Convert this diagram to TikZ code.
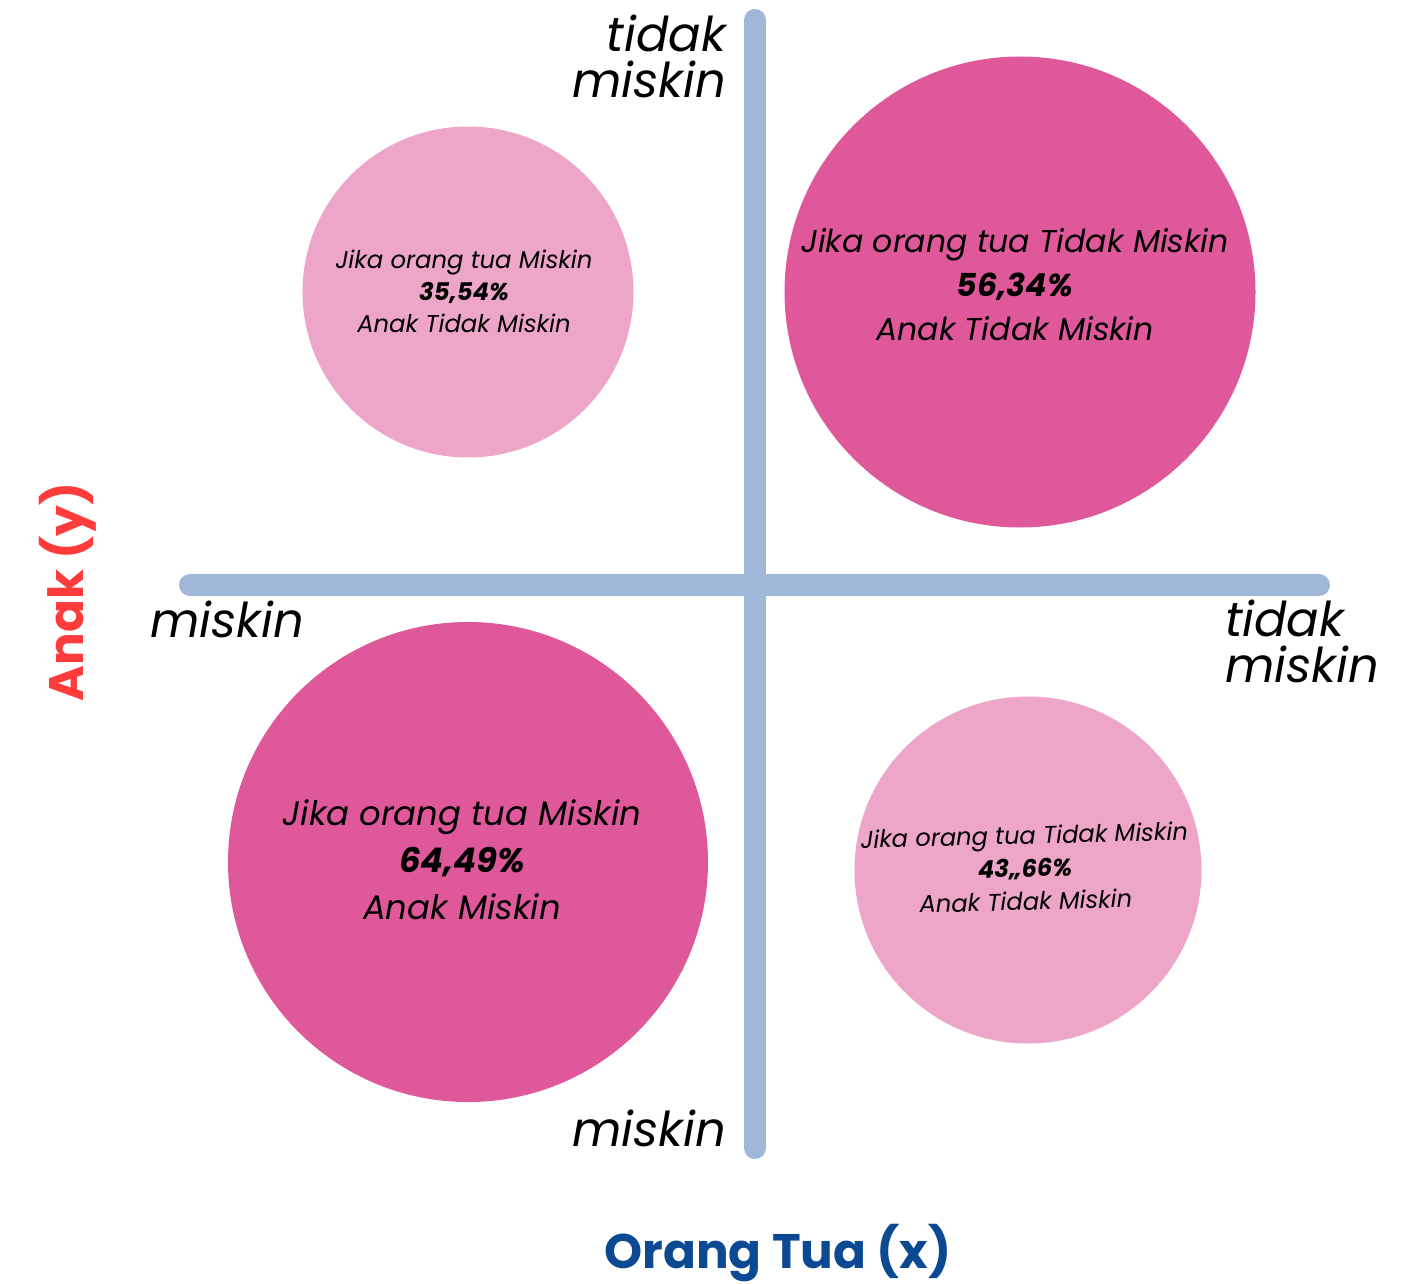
\documentclass[tikz,border=0pt]{standalone}
\usepackage{fontspec}
\setmainfont{Poppins}
\definecolor{axisblue}{HTML}{9FB7D8}
\definecolor{lightpink}{HTML}{EDA5C8}
\definecolor{darkpink}{HTML}{DF5899}
\definecolor{anakred}{HTML}{FF3B3B}
\definecolor{otblue}{HTML}{0B4A93}
\tikzset{
  axisline/.style={draw=axisblue, line width=22pt, line cap=round},
  bubble/.style={circle, inner sep=0pt, draw=none},
  axlabel/.style={font=\itshape\fontsize{48}{46}\selectfont, inner sep=0pt, align=left},
  bubbletext/.style={align=center, inner sep=0pt, text=black},
}
\begin{document}
\begin{tikzpicture}[x=1pt,y=-1pt]
\useasboundingbox (0,0) rectangle (1414,1284);
% axes
\coordinate (vtop) at (755,20);
\coordinate (vbot) at (755,1148);
\coordinate (hleft) at (190,585);
\coordinate (hright) at (1319,585);
\draw[axisline] (vtop) -- (vbot);
\draw[axisline] (hleft) -- (hright);
% bubbles
\node[bubble, fill=lightpink, minimum size=331pt] (tl) at (468,292) {};
\node[bubble, fill=darkpink, minimum size=471pt] (tr) at (1020,292) {};
\node[bubble, fill=darkpink, minimum size=480pt] (bl) at (468,862) {};
\node[bubble, fill=lightpink, minimum size=347pt] (br) at (1028,870) {};
% bubble texts
\node[bubbletext, font=\itshape\fontsize{24.3}{32}\selectfont] (tlt) at (464,291)
  {Jika orang tua Miskin\\{\bfseries 35,54\%}\\Anak Tidak Miskin};
\node[bubbletext, font=\itshape\fontsize{31.6}{44}\selectfont] (trt) at (1015,285)
  {Jika orang tua Tidak Miskin\\{\bfseries 56,34\%}\\Anak Tidak Miskin};
\node[bubbletext, font=\itshape\fontsize{33.9}{47}\selectfont] (blt) at (462,860)
  {Jika orang tua Miskin\\{\bfseries 64,49\%}\\Anak Miskin};
\node[bubbletext, font=\itshape\fontsize{24.2}{33}\selectfont, rotate=1.5] (brt) at (1025,868)
  {Jika orang tua Tidak Miskin\\{\bfseries 43,,66\%}\\Anak Tidak Miskin};
% axis end labels
\node[axlabel, anchor=north east, align=right] (ytop) at (726,15) {tidak\\miskin};
\node[axlabel, anchor=north west] (xleft) at (150,601) {miskin};
\node[axlabel, anchor=north west] (xright) at (1225,600) {tidak\\miskin};
\node[axlabel, anchor=north east, align=right] (ybot) at (726,1110) {miskin};
% axis titles
\node[font=\bfseries\fontsize{48.5}{48}\selectfont, text=anakred, rotate=90, inner sep=0pt] (anak) at (68,592) {Anak (y)};
\node[font=\bfseries\fontsize{48.5}{48}\selectfont, text=otblue, inner sep=0pt] (ot) at (778,1253) {Orang Tua (x)};
\end{tikzpicture}
\end{document}
